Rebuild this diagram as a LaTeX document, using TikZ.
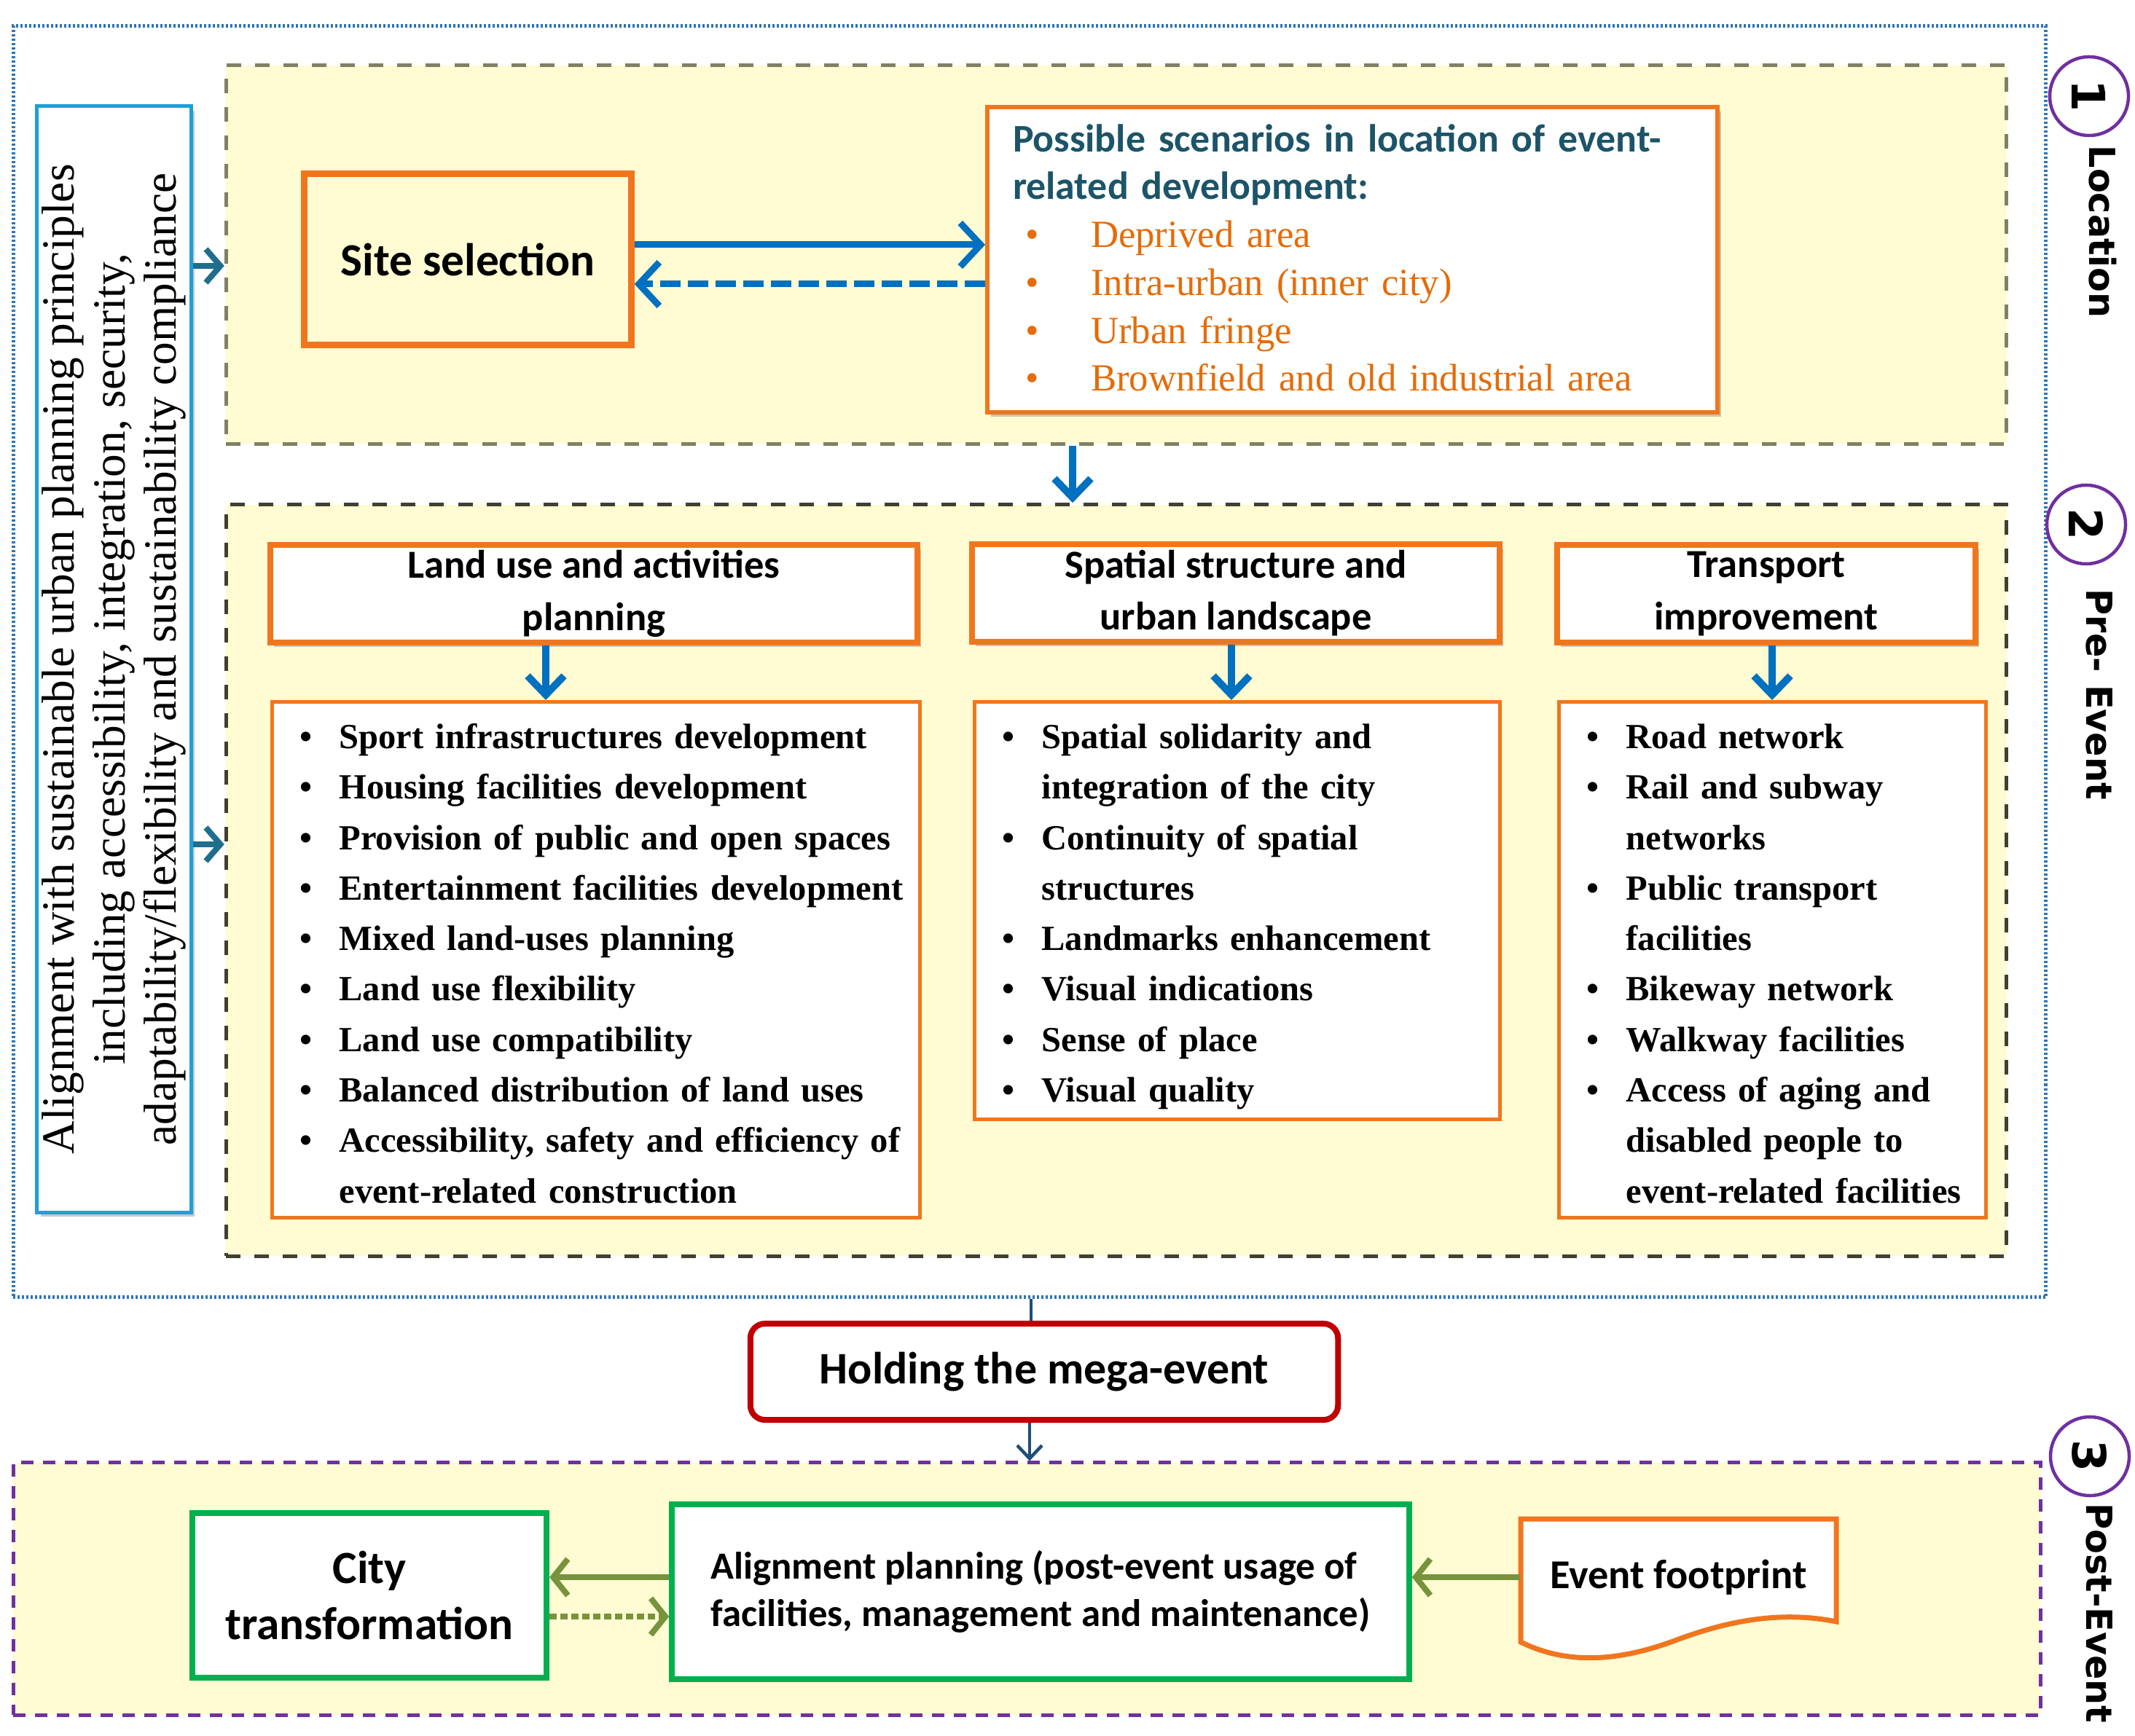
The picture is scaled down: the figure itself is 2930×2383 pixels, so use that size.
\documentclass[tikz,border=0pt]{standalone}
\usepackage{fontspec}
\setmainfont{Liberation Serif}
\newfontfamily\calibri{Carlito}
\newfontfamily\verdana{DejaVu Sans}
\usepackage{tikz}
\usetikzlibrary{arrows.meta}
\usetikzlibrary{shadows}

\definecolor{sectfill}{RGB}{255,251,210}
\definecolor{orangeC}{RGB}{240,118,30}
\definecolor{arrowB}{RGB}{0,112,192}
\definecolor{frameB}{RGB}{46,117,182}
\definecolor{tealC}{RGB}{31,110,140}
\definecolor{cyanC}{RGB}{30,160,215}
\definecolor{redC}{RGB}{192,0,0}
\definecolor{greenC}{RGB}{0,176,80}
\definecolor{oliveC}{RGB}{119,147,60}
\definecolor{purpleC}{RGB}{112,48,160}
\definecolor{navyC}{RGB}{31,78,121}
\definecolor{dashA}{RGB}{128,128,100}
\definecolor{dashB}{RGB}{64,64,50}
\definecolor{scenT}{RGB}{28,84,104}
\definecolor{scenO}{RGB}{228,108,10}

\newcommand{\lstfont}{\fontsize{13.8}{19.7}\selectfont\bfseries}
\newcommand{\itm}{\makebox[0.82cm][l]{\hspace{0.28cm}\textbullet}}
\newcommand{\gap}{\hspace*{0.82cm}}
\newcommand{\scitem}[1]{{\normalfont\fontsize{15}{18.7}\selectfont\color{scenO}\makebox[1.07cm][l]{\hspace{0.17cm}\textbullet}#1}}

\begin{document}
\begin{tikzpicture}[x=0.01cm,y=-0.01cm,
    sect/.style={rectangle,fill=sectfill,line width=0.05cm,inner sep=0pt,
                 dash pattern=on 0.2cm off 0.19cm},
    shade box/.style={drop shadow={shadow xshift=0.05cm,shadow yshift=-0.06cm,
                 opacity=0.35,fill=black!60}},
    headbox/.style={rectangle,draw=orangeC,line width=0.08cm,fill=white,inner sep=0pt,
                 align=center,minimum height=1.34cm,shade box,
                 font=\calibri\bfseries\fontsize{15.5}{20.3}\selectfont},
    listbox/.style={rectangle,draw=orangeC,line width=0.05cm,fill=white,anchor=north west,
                 align=left,inner xsep=0.1cm,inner ysep=0pt,text height=0.64cm,font=\lstfont},
    grbox/.style={rectangle,draw=greenC,line width=0.08cm,fill=white,align=center,inner sep=0pt},
    bluearr/.style={draw=arrowB,line width=0.09cm,-{Straight Barb[length=0.28cm,width=0.6cm]}},
    downarr/.style={draw=arrowB,line width=0.1cm,-{Straight Barb[length=0.26cm,width=0.5cm]}},
    tealarr/.style={draw=tealC,line width=0.08cm,-{Straight Barb[length=0.2cm,width=0.46cm]}},
    greenarr/.style={draw=oliveC,line width=0.08cm,-{Straight Barb[length=0.2cm,width=0.5cm]}},
    thinline/.style={draw=navyC,line width=0.035cm},
    numcirc/.style={circle,draw=purpleC,line width=0.045cm,fill=white,minimum size=1.08cm,
                 inner sep=0pt,rotate=-90,font=\verdana\bfseries\fontsize{18}{18}\selectfont},
    sidelabel/.style={rotate=-90,anchor=west,inner sep=0pt,
                 font=\verdana\bfseries\fontsize{14}{14}\selectfont}]

  \useasboundingbox[fill=white] (0,0) rectangle (2930,2383);

  % frames of the three stages
  \node[rectangle,draw=frameB,line width=0.05cm,dash pattern=on 0.03cm off 0.03cm,
        minimum width=27.88cm,minimum height=17.44cm,inner sep=0pt] (frame) at (1413,908) {};
  \node[sect,draw=dashA,minimum width=24.42cm,minimum height=5.19cm] (loc) at (1532,349.5) {};
  \node[sect,draw=dashB,minimum width=24.42cm,minimum height=10.31cm] (pre) at (1532,1208.5) {};
  \node[sect,draw=purpleC,dash pattern=on 0.17cm off 0.13cm,
        minimum width=27.81cm,minimum height=3.46cm] (post) at (1409.5,2181) {};

  \node[rectangle,draw=cyanC,line width=0.05cm,fill=white,rotate=90,shade box,
        minimum width=15.18cm,minimum height=2.11cm,inner sep=0pt,align=center,
        font=\fontsize{18}{20}\selectfont] (principles) at (156.5,905)
        {Alignment with sustainable urban planning principles\\
         including accessibility, integration, security,\\
         adaptability/flexibility and sustainability compliance};

  % stage 1
  \node[rectangle,draw=orangeC,line width=0.09cm,fill=sectfill,inner sep=0pt,
        minimum width=4.48cm,minimum height=2.35cm,
        font=\calibri\bfseries\fontsize{18}{22}\selectfont] (site) at (642,356) {Site selection};
  \node[listbox,line width=0.06cm,inner xsep=0.35cm,text width=9.31cm,text height=0.61cm,
        text depth=3.58cm,text=scenT,shade box,
        font=\calibri\bfseries\fontsize{15.3}{18.7}\selectfont] (scen) at (1352,144)
        {\makebox[9.31cm][s]{Possible scenarios in location of event-}\\
         related development:\\
         \scitem{Deprived area}\\
         \scitem{Intra-urban (inner city)}\\
         \scitem{Urban fringe}\\
         \scitem{Brownfield and old industrial area}};

  % stage 2
  \node[headbox,minimum width=8.88cm] (luhead) at (815,815) {Land use and activities\\planning};
  \node[headbox,minimum width=7.23cm] (sphead) at (1696,814) {Spatial structure and\\urban landscape};
  \node[headbox,minimum width=5.74cm] (trhead) at (2424,815) {Transport\\improvement};

  \node[listbox,text width=8.68cm,text depth=6.44cm] (lulist) at (371,961)
        {\itm Sport infrastructures development\\
         \itm Housing facilities development\\
         \itm Provision of public and open spaces\\
         \itm Entertainment facilities development\\
         \itm Mixed land-uses planning\\
         \itm Land use flexibility\\
         \itm Land use compatibility\\
         \itm Balanced distribution of land uses\\
         \itm Accessibility, safety and efficiency of\\
         \gap event-related construction};
  \node[listbox,text width=7.01cm,text depth=5.09cm] (splist) at (1335,961)
        {\itm Spatial solidarity and\\
         \gap integration of the city\\
         \itm Continuity of spatial\\
         \gap structures\\
         \itm Landmarks enhancement\\
         \itm Visual indications\\
         \itm Sense of place\\
         \itm Visual quality};
  \node[listbox,text width=5.66cm,text depth=6.44cm] (trlist) at (2137,961)
        {\itm Road network\\
         \itm Rail and subway\\
         \gap networks\\
         \itm Public transport\\
         \gap facilities\\
         \itm Bikeway network\\
         \itm Walkway facilities\\
         \itm Access of aging and\\
         \gap disabled people to\\
         \gap event-related facilities};

  % event and stage 3
  \node[rectangle,rounded corners=0.2cm,draw=redC,line width=0.08cm,fill=white,
        minimum width=8.06cm,minimum height=1.32cm,
        font=\calibri\bfseries\fontsize{17.6}{21}\selectfont] (hold) at (1433,1883) {Holding the mega-event};

  \node[grbox,minimum width=4.86cm,minimum height=2.25cm,
        font=\calibri\bfseries\fontsize{18}{21.8}\selectfont] (city) at (507,2190) {City\\transformation};
  \node[grbox,minimum width=10.11cm,minimum height=2.40cm,align=left,
        font=\calibri\bfseries\fontsize{15}{18.7}\selectfont] (postplan) at (1428,2185)
        {Alignment planning (post-event usage of\\facilities, management and maintenance)};

  \draw[orangeC,line width=0.07cm,fill=white] (2087,2085) -- (2520,2085) -- (2520,2226)
        .. controls (2450,2212) and (2380,2222) .. (2304,2250)
        .. controls (2220,2282) and (2150,2285) .. (2087,2254) -- cycle;
  \node[minimum width=4.33cm,minimum height=1.2cm,inner sep=0pt,
        font=\calibri\bfseries\fontsize{16}{16}\selectfont] (foot) at (2303.5,2165) {Event footprint};

  % stage markers
  \node[numcirc] (one)   at (2867,132)  {1};
  \node[numcirc] (two)   at (2863,720)  {2};
  \node[numcirc] (three) at (2868,1999) {3};
  \node[sidelabel] (lblone)   at (2886,199)  {Location};
  \node[sidelabel] (lbltwo)   at (2881,808)  {Pre- Event};
  \node[sidelabel] (lblthree) at (2881,2063) {Post-Event};

  % connectors
  \draw[tealarr] (principles.south |- 0,365)  -- (loc.west |- 0,365);
  \draw[tealarr] (principles.south |- 0,1159) -- (pre.west |- 0,1159);

  \draw[bluearr] (site.east |- 0,336) -- (scen.west |- 0,336);
  \draw[bluearr,dash pattern=on 0.28cm off 0.1cm] (scen.west |- 0,390) -- (site.east |- 0,390);

  \draw[downarr] (loc.south -| 1472,0)    -- (pre.north -| 1472,0);
  \draw[downarr] (luhead.south -| 749,0)  -- (lulist.north -| 749,0);
  \draw[downarr] (sphead.south -| 1690,0) -- (splist.north -| 1690,0);
  \draw[downarr] (trhead.south -| 2432,0) -- (trlist.north -| 2432,0);

  \draw[thinline] (frame.south -| 1415,0) -- (hold.north -| 1415,0);
  \draw[thinline,line width=0.045cm,-{Straight Barb[length=0.18cm,width=0.34cm]}]
        (hold.south -| 1413,0) -- (post.north -| 1413,0);

  \draw[greenarr] (postplan.west |- 0,2165) -- (city.east |- 0,2165);
  \draw[greenarr,dash pattern=on 0.1cm off 0.05cm] (city.east |- 0,2219) -- (postplan.west |- 0,2219);
  \draw[greenarr] (foot.west) -- (postplan.east |- foot.west);
\end{tikzpicture}
\end{document}
